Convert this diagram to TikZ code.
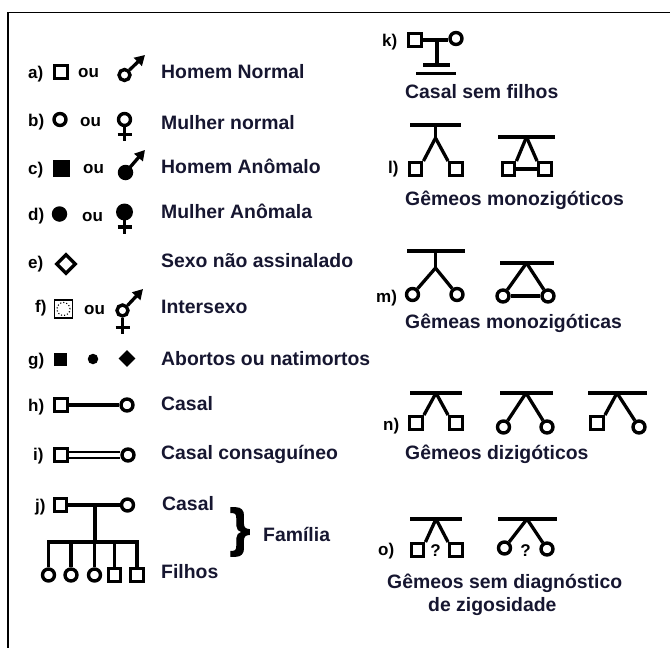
\documentclass[tikz,border=0pt]{standalone}
\usepackage{fontspec}
\setmainfont{Liberation Sans}
\newfontfamily\bracefont[FakeBold=2]{Liberation Sans Bold}
\usetikzlibrary{arrows.meta,shapes.geometric}
\definecolor{ink}{RGB}{22,22,48}
\tikzset{
  txt/.style={anchor=west,inner sep=0pt,text height=13.9pt,text depth=0pt,text=ink,font=\fontsize{19.4}{19.4}\selectfont\bfseries},
  lbl/.style={anchor=west,inner sep=0pt,text height=12pt,text depth=0pt,text=black,font=\fontsize{17}{17}\selectfont\bfseries},
  sq/.style={draw,rectangle,line width=3.4pt,minimum size=12.5pt,inner sep=0pt,fill=white},
  ci/.style={draw,circle,line width=3.4pt,minimum size=12pt,inner sep=0pt,fill=white},
  fsq/.style={fill=black,rectangle,minimum size=17pt,inner sep=0pt},
  fci/.style={fill=black,circle,minimum size=15.5pt,inner sep=0pt},
  ln/.style={line width=3.3pt},
  bar/.style={line width=4.6pt},
  arr/.style={line width=3.3pt,-{Triangle[length=10pt,width=11pt]}}
}
\begin{document}
\begin{tikzpicture}[x=1pt,y=-1pt]
\useasboundingbox (0,0) rectangle (670,648);
% frame
\draw[line width=1.8pt] (670,12.5) -- (8,12.5) -- (8,648);

% ---- left column ----
% a) normal male
\node[lbl] (la) at (28,72) {a)};
\node[sq] (sa) at (61,72) {};
\node[lbl] (oa) at (78,71) {ou};
\node[ci,minimum size=11pt] (ma) at (124.5,75) {};
\draw[arr] (ma.north east) -- (145,55);
\node[txt] (ta) at (161,71.5) {Homem Normal};

% b) normal female
\node[lbl] (lb) at (28,120) {b)};
\node[ci] (cb) at (60,119.5) {};
\node[lbl] (ob) at (80,120) {ou};
\node[ci] (fb) at (124.5,119.5) {};
\draw[ln] (fb.south) -- (124.5,141);
\draw[ln] (117.5,134.5) -- (131.5,134.5);
\node[txt] (tb) at (161,123) {Mulher normal};

% c) affected male
\node[lbl] (lc) at (28,168) {c)};
\node[fsq] (sc) at (61,168.5) {};
\node[lbl] (oc) at (83,167) {ou};
\node[fci] (mc) at (125.5,172.5) {};
\draw[arr] (mc.center) -- (145,150);
\node[txt] (tc) at (161,167) {Homem Anômalo};

% d) affected female
\node[lbl] (ld) at (28,214) {d)};
\node[fci] (cd) at (59.5,214) {};
\node[lbl] (od) at (82,215) {ou};
\node[fci,minimum size=17pt] (fd) at (124.5,212) {};
\draw[ln] (fd.center) -- (124.5,234);
\draw[ln] (117.5,227) -- (131.5,227);
\node[txt] (td) at (161,212) {Mulher Anômala};

% e) sex unknown
\node[lbl] (le) at (28,262) {e)};
\node[draw,diamond,line width=3.4pt,minimum size=20pt,inner sep=0pt] (de) at (66,264) {};
\node[txt] (te) at (161,261) {Sexo não assinalado};

% f) intersex
\node[lbl] (lf) at (35,306) {f)};
\node[draw,rectangle,line width=1.4pt,minimum size=18pt,inner sep=0pt] (sf) at (63.5,309) {};
\draw[line width=1.1pt,dotted] (sf.center) circle (6.5pt);
\node[lbl] (of) at (84,308) {ou};
\node[ci,minimum size=11pt] (xf) at (122.5,310.5) {};
\draw[arr] (xf.north east) -- (143,289);
\draw[ln] (xf.south) -- (122.5,334);
\draw[ln] (115.5,327.5) -- (129.5,327.5);
\node[txt] (tf) at (161,307) {Intersexo};

% g) miscarriages / stillbirths
\node[lbl] (lg) at (28,359) {g)};
\node[fill=black,rectangle,minimum size=13pt,inner sep=0pt] (sg) at (60,359) {};
\node[fill=black,circle,minimum size=10.5pt,inner sep=0pt] (cg) at (93,359) {};
\node[fill=black,diamond,minimum size=17pt,inner sep=0pt] (dg) at (127,358.5) {};
\node[txt] (tg) at (161,359) {Abortos ou natimortos};

% h) couple
\node[lbl] (lh) at (28,405) {h)};
\node[sq] (sh) at (61,405) {};
\node[ci] (ch) at (127,405) {};
\draw[ln] (sh) -- (ch);
\node[txt] (th) at (161,404) {Casal};

% i) consanguineous couple
\node[lbl] (li) at (33,454) {i)};
\node[sq] (si) at (61,455) {};
\node[ci] (cii) at (128,455) {};
\draw[line width=2.2pt] (si.east |- 0,452) -- (cii.west |- 0,452);
\draw[line width=2.2pt] (si.east |- 0,458) -- (cii.west |- 0,458);
\node[txt] (ti) at (161,453) {Casal consaguíneo};

% j) family
\node[lbl] (lj) at (35,505) {j)};
\node[sq] (sj) at (60.5,505) {};
\node[ci] (cj) at (127.5,505) {};
\draw[ln] (sj) -- (cj);
\coordinate (mj) at (95,505);
\coordinate (bj) at (95,542);
\draw[ln] (mj) -- (bj);
\node[ci] (k1) at (48.5,575) {};
\node[ci] (k2) at (71,575) {};
\node[ci] (k3) at (94.5,575) {};
\node[sq] (k4) at (114.5,575) {};
\node[sq] (k5) at (137,575) {};
\draw[ln] (k1.north) -- (k1.north |- bj) -- (k5.north |- bj) -- (k5.north);
\foreach \k in {k2,k3,k4} \draw[ln] (\k.north) -- (\k.north |- bj);
\node[txt] (tj1) at (162,504) {Casal};
\node[txt] (tj2) at (161,572) {Filhos};
\node[inner sep=0pt,text=black,font=\fontsize{52}{52}\bracefont] (br) at (240,532) {\}};
\node[txt] (tj3) at (263,535) {Família};

% ---- right column ----
% k) couple without children
\node[lbl] (lk) at (382,40) {k)};
\node[sq] (sk) at (415,40) {};
\node[ci] (ck) at (456,38.5) {};
\draw[ln] (sk.east) -- (ck.west |- sk.east);
\coordinate (mk) at (437,40);
\coordinate (nk) at (437,65);
\draw[ln] (mk) -- (nk);
\draw[ln] (423,65) -- (450,65);
\draw[ln] (416,73.5) -- (456,73.5);
\node[txt] (tk) at (405,92) {Casal sem filhos};

% l) monozygotic twins (male)
\node[lbl] (ll) at (388,167) {l)};
\draw[bar] (410,125) -- (461,125);
\coordinate (al) at (435.5,138);
\draw[ln] (435.5,125) -- (al);
\node[sq] (l1) at (415.5,169) {};
\node[sq] (l2) at (456,169) {};
\draw[ln] (al) -- (l1.north east);
\draw[ln] (al) -- (l2.north west);
\draw[bar] (498,137) -- (555,137);
\coordinate (bl) at (526.5,137);
\node[sq] (l3) at (508.5,169) {};
\node[sq] (l4) at (545,169) {};
\draw[ln] (bl) -- (l3.north east);
\draw[ln] (bl) -- (l4.north west);
\draw[ln] (l3) -- (l4);
\node[txt] (tl) at (405,199) {Gêmeos monozigóticos};

% m) monozygotic twins (female)
\node[lbl] (lm) at (376,296) {m)};
\draw[bar] (407,251) -- (465,251);
\coordinate (am) at (435.5,268);
\draw[ln] (435.5,251) -- (am);
\node[ci] (m1) at (412.5,294.5) {};
\node[ci] (m2) at (457,294.5) {};
\draw[ln] (am) -- (m1);
\draw[ln] (am) -- (m2);
\draw[bar] (500,263) -- (554,263);
\coordinate (bm) at (526.5,263);
\node[ci] (m3) at (503,296) {};
\node[ci] (m4) at (548,296) {};
\draw[ln] (bm) -- (m3);
\draw[ln] (bm) -- (m4);
\draw[ln] (m3) -- (m4);
\node[txt] (tm) at (405,322) {Gêmeas monozigóticas};

% n) dizygotic twins
\node[lbl] (ln) at (383,424) {n)};
\draw[bar] (410,393) -- (462,393);
\coordinate (an) at (436,393);
\node[sq] (n1) at (416,423) {};
\node[sq] (n2) at (456,423) {};
\draw[ln] (an) -- (n1.north east);
\draw[ln] (an) -- (n2.north west);
\draw[bar] (500,393) -- (553,393);
\coordinate (bn) at (526,393);
\node[ci] (n3) at (503.5,427) {};
\node[ci] (n4) at (547,427) {};
\draw[ln] (bn) -- (n3);
\draw[ln] (bn) -- (n4);
\draw[bar] (588,393) -- (647,393);
\coordinate (cn) at (617,393);
\node[sq] (n5) at (597,423) {};
\node[ci] (n6) at (639,427) {};
\draw[ln] (cn) -- (n5.north east);
\draw[ln] (cn) -- (n6);
\node[txt] (tn) at (405,453) {Gêmeos dizigóticos};

% o) twins of unknown zygosity
\node[lbl] (lo) at (378,549) {o)};
\draw[bar] (410,519) -- (462,519);
\coordinate (ao) at (436,519);
\node[sq] (o1) at (417.5,550) {};
\node[sq] (o2) at (456,550) {};
\draw[ln] (ao) -- (o1.north east);
\draw[ln] (ao) -- (o2.north west);
\node[lbl,anchor=center] (q1) at (435.5,550) {?};
\draw[bar] (498,519) -- (557,519);
\coordinate (bo) at (527,519);
\node[ci] (o3) at (504.5,548) {};
\node[ci] (o4) at (547,549) {};
\draw[ln] (bo) -- (o3);
\draw[ln] (bo) -- (o4);
\node[lbl,anchor=center] (q2) at (525.5,550) {?};
\node[txt] (to1) at (387,582) {Gêmeos sem diagnóstico};
\node[txt] (to2) at (428,605) {de zigosidade};
\end{tikzpicture}
\end{document}
